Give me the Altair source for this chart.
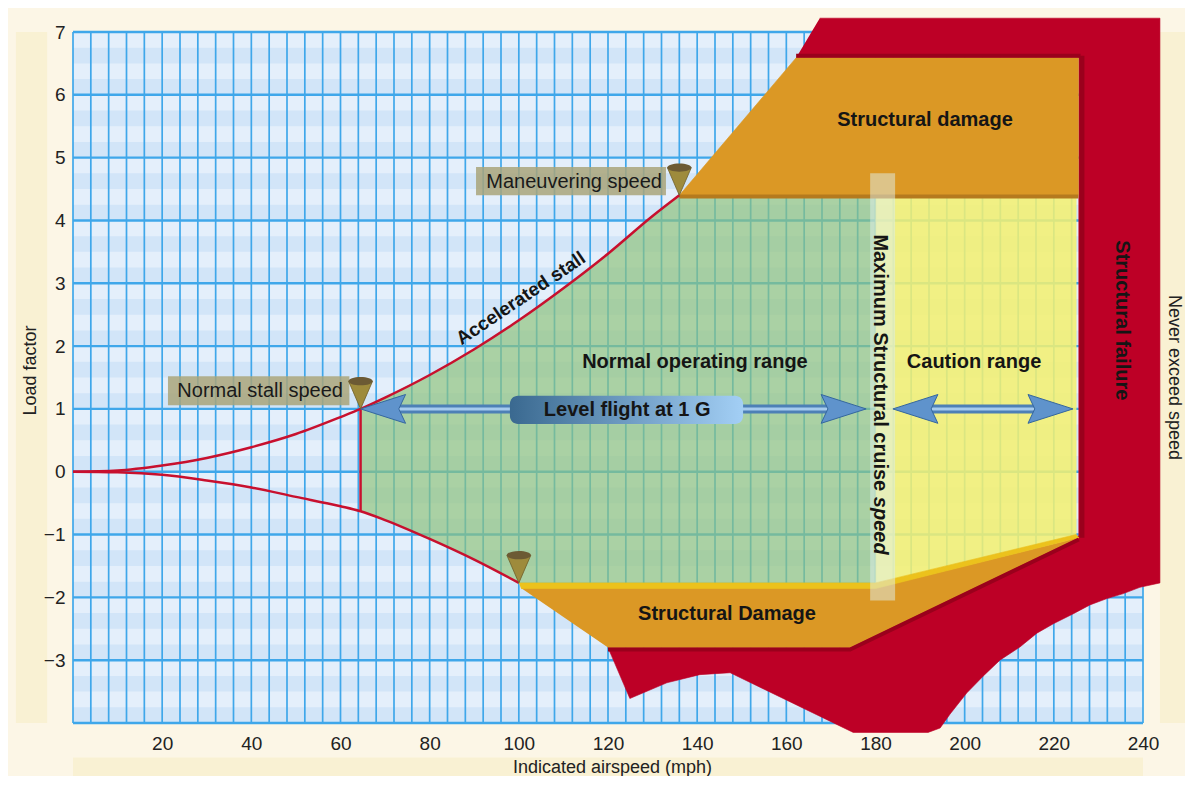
import altair as alt
import pandas as pd
import numpy as np

FONT = "Liberation Sans"

# ---------------- values ----------------
x_ticks = [20, 40, 60, 80, 100, 120, 140, 160, 180, 200, 220, 240]
y_ticks = [-3, -2, -1, 0, 1, 2, 3, 4, 5, 6, 7]

# accelerated stall (positive) curve
pos_speed = [0, 10, 20, 30, 40, 50, 60, 64.5, 70, 80, 90, 100, 110, 120, 130, 136]
pos_load = [0, 0.02, 0.1, 0.22, 0.39, 0.6, 0.87, 1.0, 1.18, 1.54, 1.95, 2.41, 2.92, 3.47, 4.07, 4.4]
# negative stall curve
neg_speed = [0, 10, 20, 30, 40, 50, 60, 64.5, 70, 80, 90, 100]
neg_load = [0, -0.01, -0.05, -0.14, -0.25, -0.40, -0.55, -0.63, -0.77, -1.07, -1.40, -1.77]

stall_speed = 64.5
maneuver_speed = 136
cruise_speed = 180
never_exceed = 225
pos_limit = 4.4
neg_limit = -1.77
neg_limit_vne = -1.0

# structural failure region outline
red_x = [167.5, 243.8, 243.8, 239.3, 235.6, 231.9, 228.1, 224.4, 219.9, 216.2, 212.4, 207.9,
         204.2, 200.5, 196.7, 194.5, 191.8, 175.0, 147.4, 140.6, 133.2, 124.9, 120.0,
         174.3, 225.6, 225.6, 162.2]
red_y = [7.22, 7.22, -1.77, -1.84, -1.94, -2.02, -2.12, -2.26, -2.42, -2.57, -2.79, -3.0,
         -3.25, -3.52, -3.86, -4.08, -4.15, -4.15, -3.20, -3.23, -3.36, -3.61, -2.80,
         -2.80, -1.02, 6.59, 6.59]
# structural damage (positive)
dmg_top_x = [136, 162.2, 225.5, 225.5]
dmg_top_y = [4.4, 6.59, 6.59, 4.4]
# structural damage (negative)
dmg_bot_x = [100.5, 180, 225.6, 174.3, 120]
dmg_bot_y = [-1.85, -1.85, -1.05, -2.80, -2.80]
# gold edge below the operating ranges
gold_x = [100, 180, 225, 225.6, 180, 100.5]
gold_y = [-1.77, -1.77, -1.0, -1.05, -1.86, -1.86]

# ---------------- scales / axes ----------------
W, H = 1070, 691
xs = alt.Scale(domain=[0, 240], nice=False, zero=False)
ys = alt.Scale(domain=[-4, 7], nice=False, zero=False)
xaxis = alt.Axis(values=x_ticks, labelFontSize=19, labelColor="#222", labelFont=FONT,
                 domain=False, ticks=False, grid=False, labelPadding=11, format="d",
                 labelFlush=False, labelOverlap=False,
                 title="Indicated airspeed (mph)", titleFont=FONT, titleFontSize=18,
                 titleFontWeight="normal", titleColor="#222", titleX=539, titleY=44,
                 titleBaseline="middle", zindex=2)
yaxis = alt.Axis(values=y_ticks, labelFontSize=19, labelColor="#222", labelFont=FONT,
                 domain=False, ticks=False, grid=False, labelPadding=8, format="d",
                 labelFlush=False, labelOverlap=False,
                 title="Load factor", titleFont=FONT, titleFontSize=18,
                 titleFontWeight="normal", titleColor="#222", titleX=-43, titleY=338,
                 titleAngle=270, titleBaseline="middle", titleAlign="center", zindex=2)


def X(f="x"):
    return alt.X(f"{f}:Q", scale=xs, axis=xaxis)


def Y(f="y"):
    return alt.Y(f"{f}:Q", scale=ys, axis=yaxis)


def rects(x0, x1, y0, y1, **mk):
    df = pd.DataFrame({"x": x0, "x2": x1, "y": y0, "y2": y1})
    return alt.Chart(df).mark_rect(**mk).encode(x=X(), x2="x2:Q", y=Y(), y2="y2:Q")


def poly(xv, yv, color, op=1.0):
    df = pd.DataFrame({"x": xv, "y": yv, "o": range(len(xv))})
    return alt.Chart(df).mark_line(fill=color, stroke=color, strokeWidth=0.6, fillOpacity=op,
                                   strokeOpacity=op, interpolate="linear").encode(
        x=X(), y=Y(), order="o:Q")


def path(xv, yv, color, width, **mk):
    df = pd.DataFrame({"x": xv, "y": yv, "o": range(len(xv))})
    return alt.Chart(df).mark_line(color=color, strokeWidth=width, **mk).encode(
        x=X(), y=Y(), order="o:Q")


def text(x, y, s, **mk):
    df = pd.DataFrame({"x": [x], "y": [y], "t": [s]})
    base = dict(font=FONT, fontSize=20, fontWeight="bold", color="#151515")
    base.update(mk)
    return alt.Chart(df).mark_text(**base).encode(x=X(), y=Y(), text="t:N")


def sym(xv, yv, shape, size, **mk):
    df = pd.DataFrame({"x": xv, "y": yv})
    return alt.Chart(df).mark_point(shape=shape, size=size, filled=True, opacity=1, **mk).encode(
        x=X(), y=Y())


layers = []

# decorative side panels
layers.append(rects([-12.8, 243.8], [-5.8, 253], [-4, -4], [7, 7], color="#f9f1d3"))
layers.append(rects([0], [240], [-4.55], [-5.2], color="#f9f1d3"))

# graph paper
layers.append(rects([0], [240], [-4], [7], color="#e4effb"))
band_lo = [n + off for n in range(-4, 7) for off in (0.0, 0.5)]
layers.append(rects([0] * len(band_lo), [240] * len(band_lo), band_lo,
                    [b + 0.25 for b in band_lo], color="#d2e5f8"))
vx = list(np.arange(0, 241, 4))
layers.append(alt.Chart(pd.DataFrame({"x": vx, "y": -4, "y2": 7})).mark_rule(
    color="#3fa7ea", strokeWidth=1.7).encode(x=X(), y=Y(), y2="y2:Q"))
hy = list(range(-4, 8))
layers.append(alt.Chart(pd.DataFrame({"y": hy, "x": 0, "x2": 240})).mark_rule(
    color="#3fa7ea", strokeWidth=2.4).encode(y=Y(), x=X(), x2="x2:Q"))

# structural failure (red)
layers.append(poly(red_x, red_y, "#bd0026"))

# normal operating range (green)
i0 = pos_speed.index(stall_speed)
j0 = neg_speed.index(stall_speed)
green_x = pos_speed[i0:] + [cruise_speed, cruise_speed] + neg_speed[j0:][::-1]
green_y = pos_load[i0:] + [pos_limit, neg_limit] + neg_load[j0:][::-1]
layers.append(poly(green_x, green_y, "#8fc27a", 0.68))

# caution range (yellow)
layers.append(poly([cruise_speed, never_exceed, never_exceed, cruise_speed],
                   [pos_limit, pos_limit, neg_limit_vne, neg_limit], "#f3f070", 0.86))

# structural damage areas
layers.append(poly(dmg_top_x, dmg_top_y, "#db9825"))
layers.append(poly(dmg_bot_x, dmg_bot_y, "#db9825"))
layers.append(poly(gold_x, gold_y, "#ecc21c"))
# bevel edges
layers.append(path([136, 225.5], [4.38, 4.38], "#b57a1e", 4))
layers.append(path([162.2, 226], [6.62, 6.62], "#9a001c", 4))
layers.append(path([226.3, 226.3], [6.62, -1.05], "#9a001c", 5))
layers.append(path([225.6, 174.3, 120], [-1.08, -2.83, -2.83], "#9a001c", 4))

# maximum structural cruise speed band
layers.append(rects([178.8], [184.4], [-2.05], [4.75], color="#dff0ee", opacity=0.5))

# stall curves
layers.append(path(pos_speed, pos_load, "#c8102e", 2.5, interpolate="monotone"))
layers.append(path(neg_speed, neg_load, "#c8102e", 2.5, interpolate="monotone"))
layers.append(path([stall_speed, stall_speed], [1.0, -0.63], "#c8102e", 2.5))

# annotation boxes
layers.append(rects([21.3, 90.4], [62.0, 133.0], [1.06, 4.40], [1.52, 4.85],
                    color="#a9a47a", opacity=0.85))
layers.append(text(23.4, 1.29, "Normal stall speed", fontWeight="normal", align="left",
                   baseline="middle", color="#1a1a1a"))
layers.append(text(92.7, 4.62, "Maneuvering speed", fontWeight="normal", align="left",
                   baseline="middle", color="#1a1a1a"))

# level-flight arrows
for x0, x1 in [(68, 174), (187, 221)]:
    layers.append(path([x0, x1], [1.0, 1.0], "#4d80b6", 9))
    layers.append(path([x0, x1], [1.0, 1.0], "#a6cbee", 3))
left_head = "M 0 0 L 2 -0.64 L 1.7 0 L 2 0.64 Z"
right_head = "M 0 0 L -2 -0.64 L -1.7 0 L -2 0.64 Z"
layers.append(sym([stall_speed, 183.9], [1.0, 1.0], left_head, 2025,
                  fill="#5f93cc", stroke="#35679e", strokeWidth=1))
layers.append(sym([177.9, 224.3], [1.0, 1.0], right_head, 2025,
                  fill="#5f93cc", stroke="#35679e", strokeWidth=1))
pill_grad = alt.LinearGradient(gradient="linear", x1=0, x2=1, y1=0, y2=0,
                               stops=[alt.GradientStop(color="#3a6990", offset=0),
                                      alt.GradientStop(color="#a3cff5", offset=1)])
layers.append(rects([98.0], [150.3], [0.76], [1.21], color=pill_grad, cornerRadius=8))
layers.append(text(124.3, 0.985, "Level flight at 1 G", align="center", baseline="middle"))

# cones
cone = "M 0 0 L -0.8 -1.85 L 0.8 -1.85 Z"
cone_top = "M -0.8 -1.85 A 0.8 0.28 0 1 1 0.8 -1.85 A 0.8 0.28 0 1 1 -0.8 -1.85 Z"
cx = [stall_speed, maneuver_speed, 100]
cy = [1.0, pos_limit, neg_limit]
layers.append(sym(cx, cy, cone, 900, fill="#9e8b3c", stroke="#6e5e2a", strokeWidth=0.8))
layers.append(sym(cx, cy, cone_top, 900, fill="#6c5a34"))

# region labels
layers.append(text(139.5, 1.75, "Normal operating range", align="center", baseline="middle"))
layers.append(text(202.1, 1.75, "Caution range", align="center", baseline="middle"))
layers.append(text(191.1, 5.6, "Structural damage", align="center", baseline="middle"))
layers.append(text(146.7, -2.27, "Structural Damage", align="center", baseline="middle"))
layers.append(text(235.3, 2.41, "Structural  failure", align="center", baseline="middle",
                   angle=90))
layers.append(text(181.0, -0.31, "Maximum Structural cruise", align="right", baseline="middle",
                   angle=90))
layers.append(text(181.0, -0.40, "speed", align="left", baseline="middle",
                   angle=90, fontStyle="italic"))
layers.append(text(101.2, 2.68, "Accelerated stall", align="center", baseline="alphabetic",
                   angle=326, fontSize=19))
layers.append(text(246.9, 1.5, "Never exceed speed", align="center", baseline="middle",
                   angle=90, fontWeight="normal", fontSize=18, color="#222"))

chart = alt.layer(*layers).properties(
    width=W, height=H,
    autosize=alt.AutoSizeParams(type="none"),
    padding={"left": 65, "top": 24, "right": 42, "bottom": 53},
    background="#fcf6e6",
).configure_view(stroke=None)

chart.save("out.html", embed_options={"renderer": "svg", "actions": False})
